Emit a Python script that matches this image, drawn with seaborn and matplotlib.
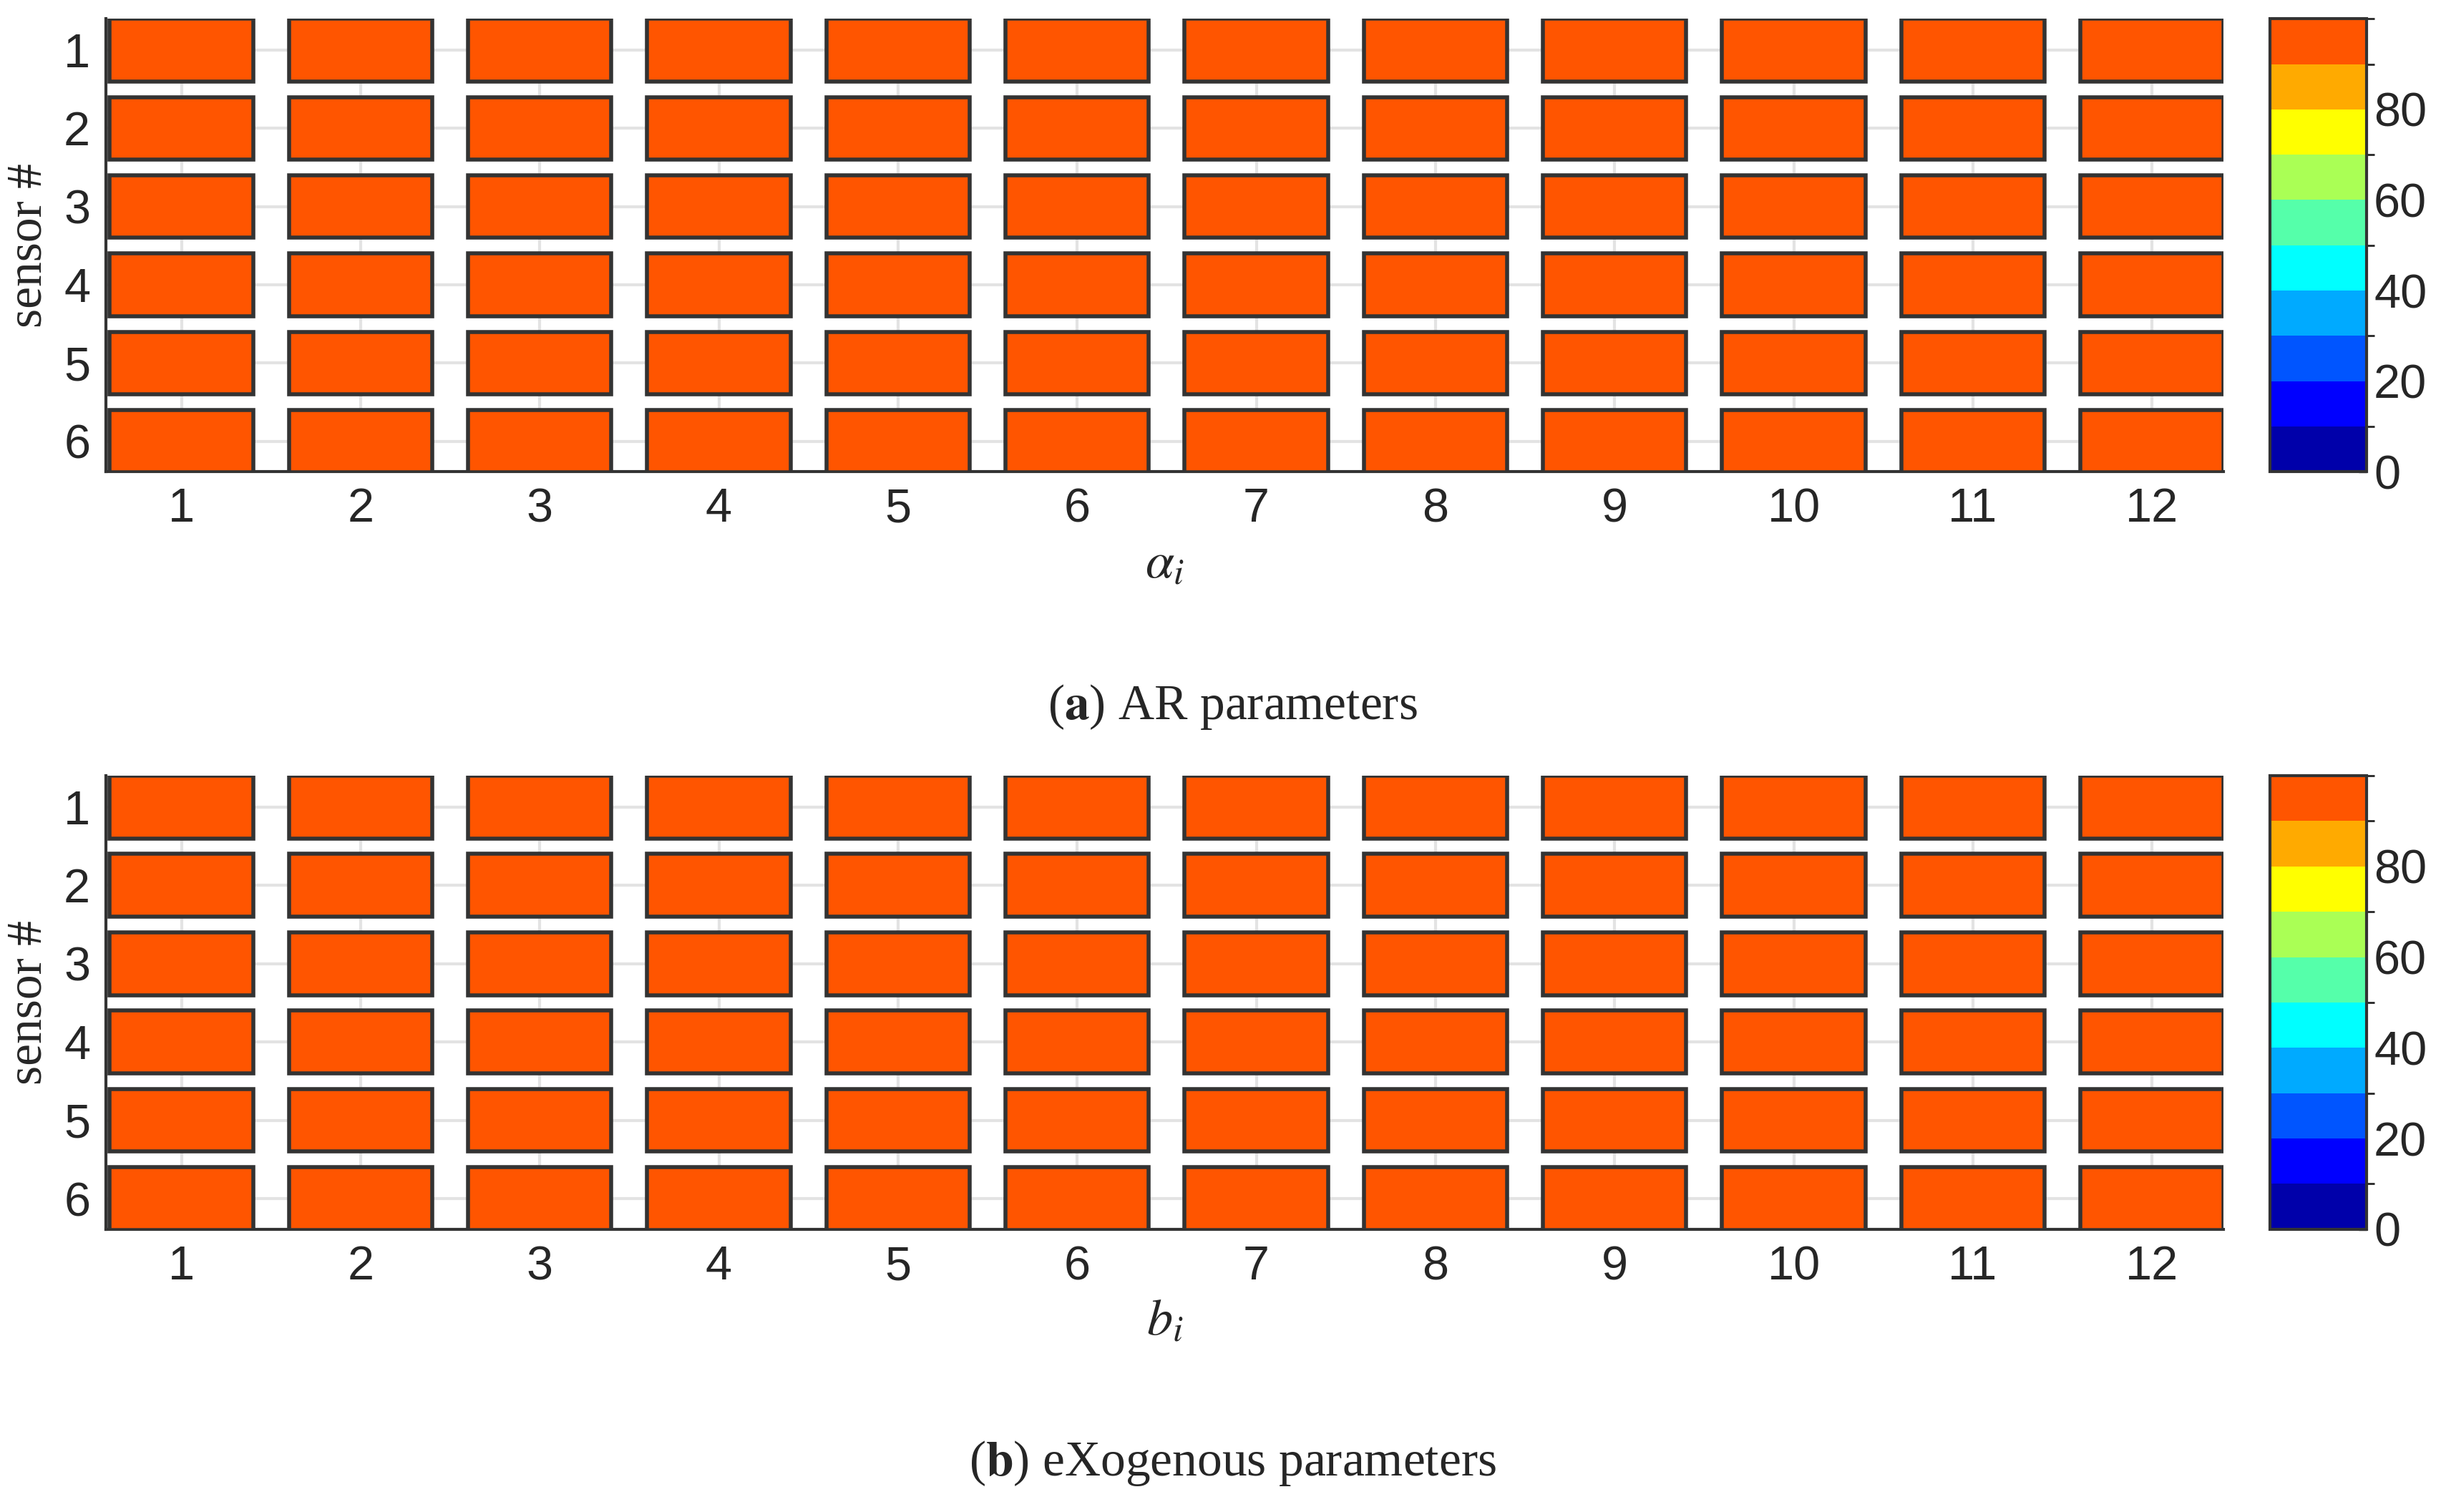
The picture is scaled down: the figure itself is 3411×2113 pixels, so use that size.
import numpy as np
import matplotlib
matplotlib.use("Agg")
import matplotlib.pyplot as plt
import seaborn as sns
from matplotlib.colors import ListedColormap, BoundaryNorm

sensors = [1, 2, 3, 4, 5, 6]
params = list(range(1, 13))
# percentage of identification success per sensor/parameter (all in top bin)
ar_values = np.full((6, 12), 95.0)
exo_values = np.full((6, 12), 95.0)
captions = ["a", "b"]
caption_text = ["AR parameters", "eXogenous parameters"]
xlabels = [r"$\alpha_i$", r"$b_i$"]
cbar_ticks = [0, 20, 40, 60, 80]

jet10 = ["#0000aa", "#0000ff", "#0055ff", "#00aaff", "#00ffff",
         "#55ffaa", "#aaff55", "#ffff00", "#ffaa00", "#ff5500"]

sns.set_theme(style="white")
plt.rcParams["font.family"] = ["Liberation Sans", "DejaVu Sans"]
plt.rcParams["mathtext.fontset"] = "stix"

cmap = ListedColormap(jet10)
norm = BoundaryNorm(np.linspace(0, 100, 11), cmap.N)

fig = plt.figure(figsize=(3411 / 200, 2113 / 200), dpi=200)
axes_pos = [[0.0435, 0.688, 0.8675, 0.2996], [0.0435, 0.187, 0.8675, 0.300]]
cap_y = [0.5325, 0.032]

for k, vals in enumerate([ar_values, exo_values]):
    ax = fig.add_axes(axes_pos[k])
    for i, s in enumerate(sensors):
        ax.barh([s] * len(params), [0.8] * len(params),
                left=np.array(params) - 0.4, height=0.8,
                color=[cmap(norm(v)) for v in vals[i]],
                edgecolor="#333333", linewidth=2, zorder=3)
    ax.set_xlim(0.58, 12.4)
    ax.set_ylim(6.39, 0.6)
    ax.set_xticks(params)
    ax.set_yticks(sensors)
    ax.grid(True, color="#e3e3e3", linewidth=1.5, zorder=0)
    ax.tick_params(labelsize=24, colors="#262626", length=0, pad=8)
    for sp in ["top", "right"]:
        ax.spines[sp].set_visible(False)
    for sp in ["left", "bottom"]:
        ax.spines[sp].set_color("#333333")
        ax.spines[sp].set_linewidth(1.5)
    ax.set_xlabel(xlabels[k], fontsize=26, labelpad=4)
    ax.set_ylabel("sensor #", fontsize=25, family="Liberation Serif", color="#262626", labelpad=6)

    cax = fig.add_axes([0.930, axes_pos[k][1], 0.0396, axes_pos[k][3]])
    sm = matplotlib.cm.ScalarMappable(norm=norm, cmap=cmap)
    cb = fig.colorbar(sm, cax=cax, ticks=cbar_ticks)
    cb.outline.set_edgecolor("#333333")
    cb.outline.set_linewidth(1.5)
    cax.tick_params(labelsize=24, colors="#262626", length=4, direction="in", width=1.2)

    fig.text(0.505, cap_y[k], r"($\mathbf{" + captions[k] + r"}$) " + caption_text[k],
             ha="center", va="center", fontsize=25, family="Liberation Serif")

fig.savefig("out.png", dpi=200)
